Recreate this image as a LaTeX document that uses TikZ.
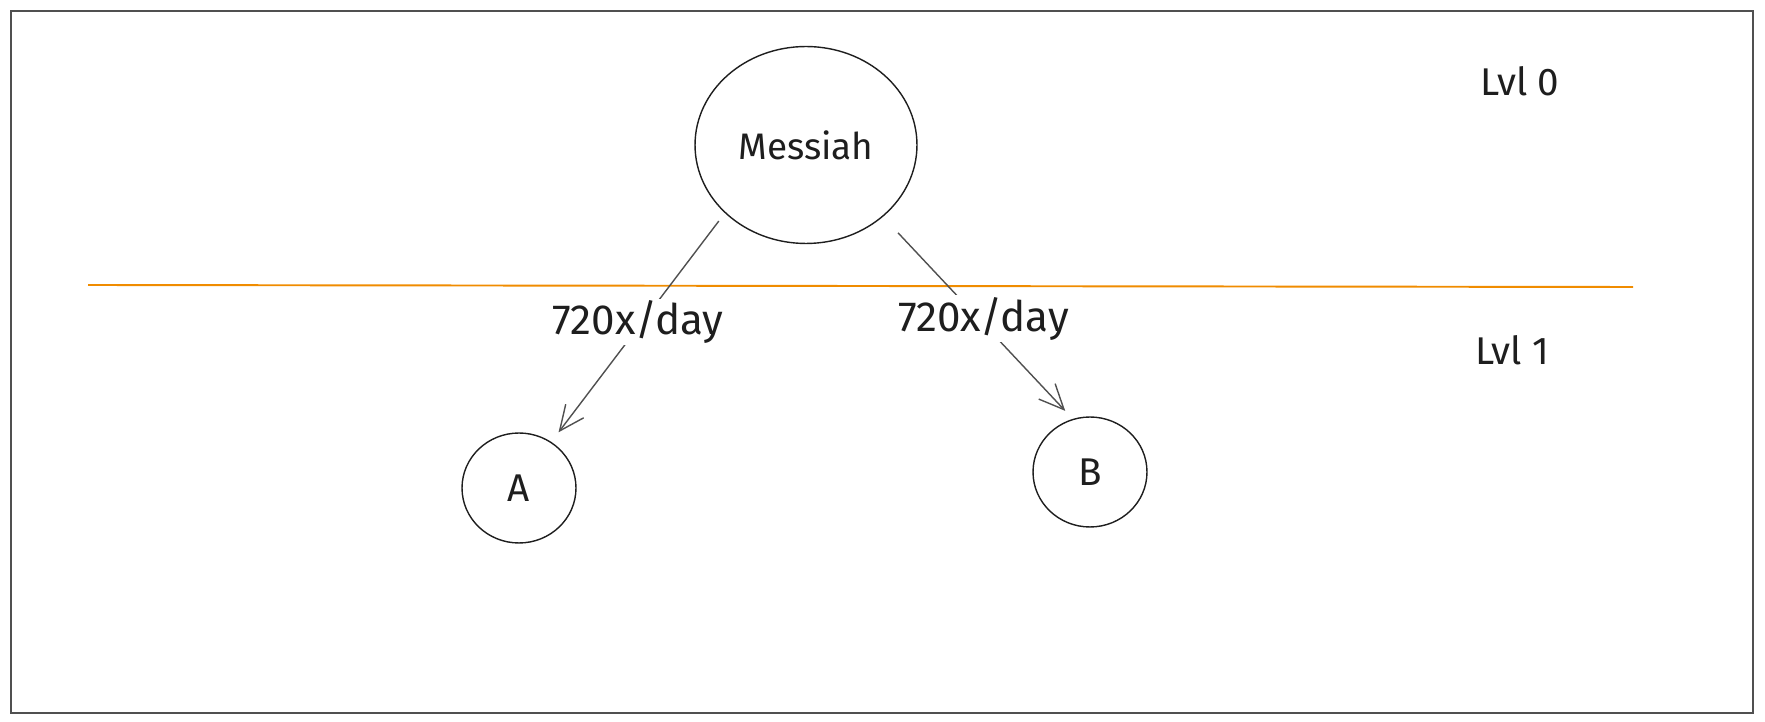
\documentclass[tikz,border=0pt]{standalone}
\usepackage{fontspec}
\setmainfont{Fira Sans}
\usepackage{xcolor}
\usetikzlibrary{positioning,shapes.geometric,arrows.meta}
\definecolor{tratto}{HTML}{1E1E1E}
\definecolor{freccia}{HTML}{505050}
\definecolor{arancio}{HTML}{F08C00}

\begin{document}
\begin{tikzpicture}[x=0.02cm, y=-0.02cm,
	cerchio/.style={draw=tratto, ellipse, line width=0.8pt, inner sep=0pt, text=tratto},
	etichetta/.style={fill=white, inner sep=1pt, text=tratto, yshift=3pt, font=\fontsize{24}{28}\selectfont},
	livello/.style={font=\fontsize{22}{26}\selectfont, text=tratto},
	>={Straight Barb[length=5mm, width=4.5mm]}]
	\useasboundingbox (0,0) rectangle (1765,722);
	% cornice
	\draw[freccia, line width=1.1pt] (11,11) rectangle (1753,713);
	% linea di livello
	\draw[arancio, line width=1.1pt] (88,285) -- (1633,287);
	
	% nodi
	\node[cerchio, minimum width=4.44cm, minimum height=3.94cm, font=\fontsize{21}{25}\selectfont] (msg) at (806,145) {Messiah};
	\node[cerchio, minimum width=2.28cm, minimum height=2.2cm, font=\fontsize{22}{26}\selectfont] (a) at (519,488) {A};
	\node[cerchio, minimum width=2.28cm, minimum height=2.2cm, font=\fontsize{22}{26}\selectfont] (b) at (1090,472) {B};
	\node[livello] (lvl0) at (1520,81) {Lvl 0};
	\node[livello] (lvl1) at (1512,350) {Lvl 1};
	
	% frecce
	\draw[->, freccia, line width=0.8pt, shorten <=0.2cm, shorten >=0.24cm] (msg.220) -- (a.55) node[midway, etichetta] {720x/day};
	\draw[->, freccia, line width=0.8pt, shorten <=0.44cm, shorten >=0.22cm] (msg.317) -- (b.108) node[pos=0.53, etichetta] {720x/day};
\end{tikzpicture}
\end{document}
